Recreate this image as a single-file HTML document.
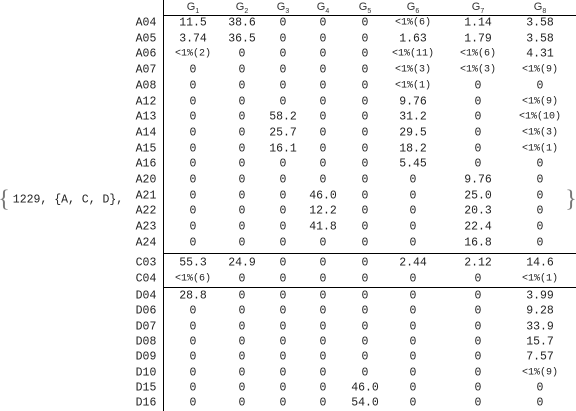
<!DOCTYPE html>
<html><head><meta charset="utf-8"><style>
body{margin:0;width:576px;height:411px;background:#fff;position:relative;overflow:hidden;font-family:"Liberation Mono",monospace;font-size:11.5px;color:#222}
.c{position:absolute;transform:translate(-50%,-50%);white-space:nowrap}
.s{font-size:10px}
.h{font-family:"Liberation Sans",sans-serif;font-size:11px;color:#333}
.h sub{font-size:7px}
.ln{position:absolute;background:#000}
</style></head><body>
<div class="c" style="left:4px;top:200px;font-family:'Liberation Serif',serif;font-size:24px;color:#777">{</div>
<div class="c" style="left:68px;top:200px">1229, {A, C, D},</div>
<div class="c" style="left:571px;top:200px;font-family:'Liberation Serif',serif;font-size:24px;color:#777">}</div>
<div class="ln" style="left:163px;top:0;width:1px;height:411px"></div>
<div class="ln" style="left:163px;top:15px;width:413px;height:1px"></div>
<div class="ln" style="left:163px;top:253px;width:413px;height:1px"></div>
<div class="ln" style="left:163px;top:287px;width:413px;height:1px"></div>
<script>
const cols=["G1","G2","G3","G4","G5","G6","G7","G8"];
const rows=["A04","A05","A06","A07","A08","A12","A13","A14","A15","A16","A20","A21","A22","A23","A24","C03","C04","D04","D06","D07","D08","D09","D10","D15","D16"];
const vals=[
["11.5","38.6","0","0","0","<1%(6)","1.14","3.58"],
["3.74","36.5","0","0","0","1.63","1.79","3.58"],
["<1%(2)","0","0","0","0","<1%(11)","<1%(6)","4.31"],
["0","0","0","0","0","<1%(3)","<1%(3)","<1%(9)"],
["0","0","0","0","0","<1%(1)","0","0"],
["0","0","0","0","0","9.76","0","<1%(9)"],
["0","0","58.2","0","0","31.2","0","<1%(10)"],
["0","0","25.7","0","0","29.5","0","<1%(3)"],
["0","0","16.1","0","0","18.2","0","<1%(1)"],
["0","0","0","0","0","5.45","0","0"],
["0","0","0","0","0","0","9.76","0"],
["0","0","0","46.0","0","0","25.0","0"],
["0","0","0","12.2","0","0","20.3","0"],
["0","0","0","41.8","0","0","22.4","0"],
["0","0","0","0","0","0","16.8","0"],
["55.3","24.9","0","0","0","2.44","2.12","14.6"],
["<1%(6)","0","0","0","0","0","0","<1%(1)"],
["28.8","0","0","0","0","0","0","3.99"],
["0","0","0","0","0","0","0","9.28"],
["0","0","0","0","0","0","0","33.9"],
["0","0","0","0","0","0","0","15.7"],
["0","0","0","0","0","0","0","7.57"],
["0","0","0","0","0","0","0","<1%(9)"],
["0","0","0","0","46.0","0","0","0"],
["0","0","0","0","54.0","0","0","0"]];
const colX=[193,242,283,323,365,413,478,540];
function rowY(i){if(i<15)return 23+i*15.7;if(i<17)return 263+(i-15)*16;return 296+(i-17)*15.3;}
function add(txt,x,y,cls){const d=document.createElement('div');d.className='c '+(cls||'');d.style.left=x+'px';d.style.top=y+'px';d.textContent=txt;document.body.appendChild(d);return d;}
cols.forEach((c,j)=>{const d=add('',colX[j],8,'h');d.innerHTML='G<sub>'+c.slice(1)+'</sub>';

});
rows.forEach((r,i)=>{const y=rowY(i);const l=add(r,146,y);


vals[i].forEach((v,j)=>{const d=add(v,colX[j],y,v.startsWith('<')?'s':'');

});});
</script>
</body></html>
